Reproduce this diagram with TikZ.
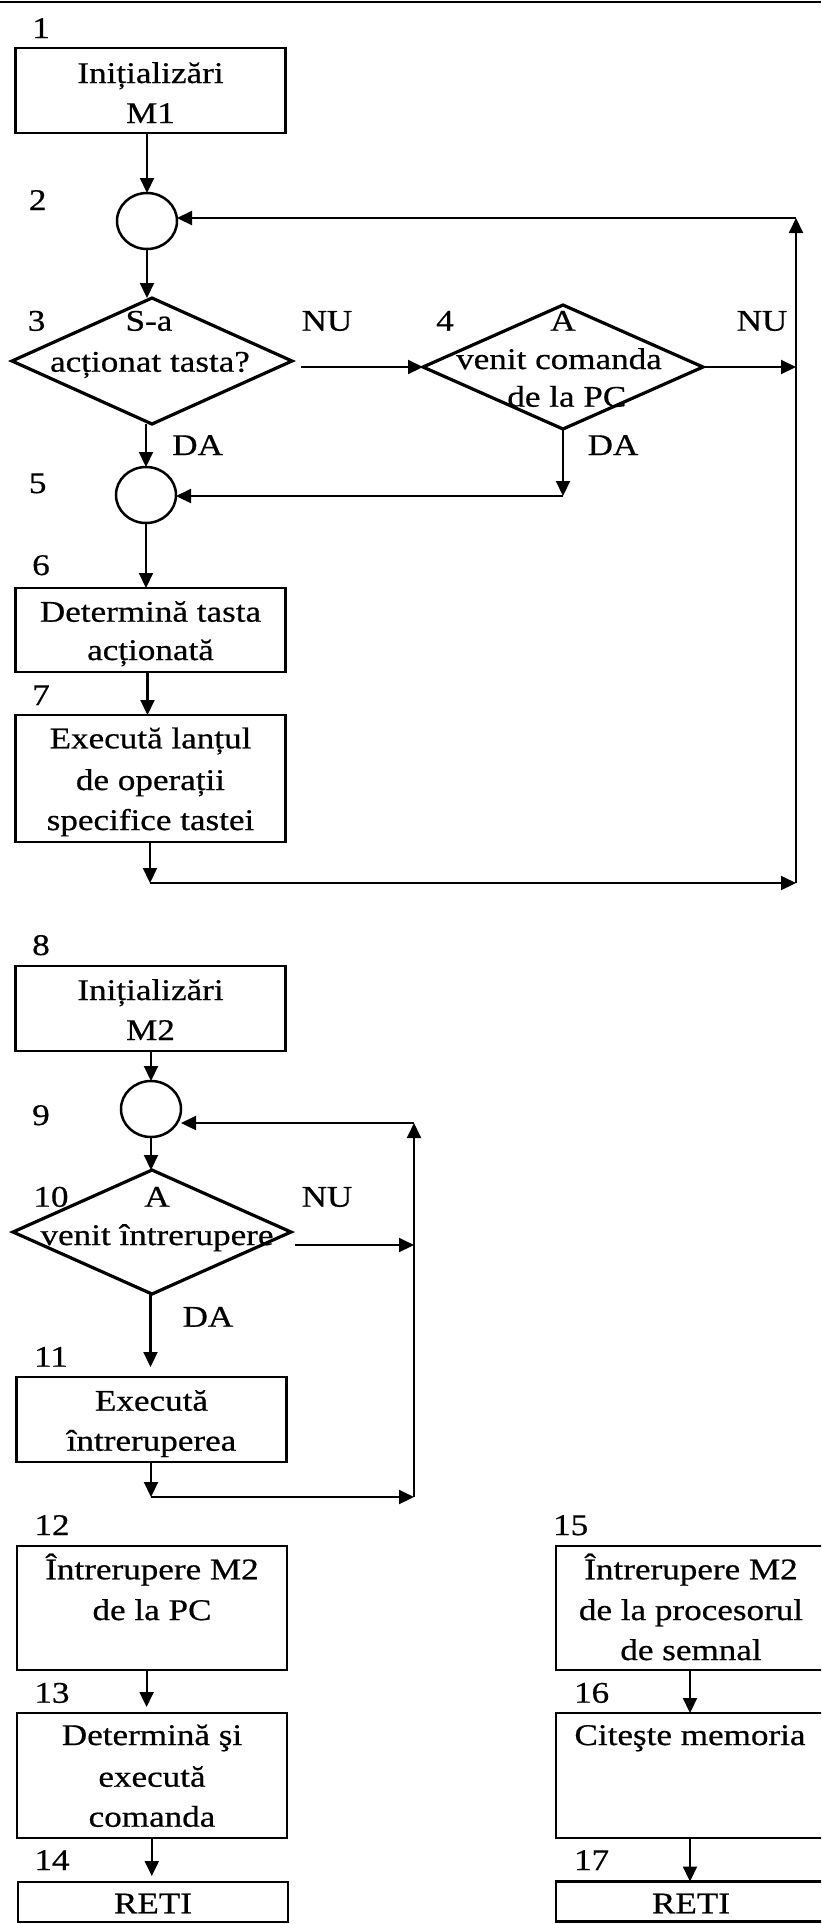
\documentclass[tikz,border=0pt]{standalone}
\usepackage{fontspec}
\setmainfont{Liberation Serif}[FakeStretch=1.17,FakeBold=0.6]
\usetikzlibrary{arrows.meta,shapes.geometric}

\begin{document}
\begin{tikzpicture}[x=0.5pt,y=-0.5pt,
  every node/.style={inner sep=0pt, outer sep=0pt},
  box/.style={draw, line width=1.25pt, rectangle, minimum width=135pt},
  dec/.style={draw, line width=1.6pt, diamond, minimum width=140pt, minimum height=62pt},
  joint/.style={draw, line width=1.25pt, ellipse, minimum width=30pt, minimum height=28pt},
  txt/.style={anchor=base, font=\fontsize{15}{18}\selectfont},
  num/.style={txt},
  arr/.style={line width=1.05pt, -{Triangle[length=7.5pt,width=7pt]}},
]
\useasboundingbox (0,0) rectangle (821,1924);
\clip (0,0) rectangle (821,1924);

% page header rule
\coordinate (rl) at (0,2);
\coordinate (rr) at (821,2);
\draw[line width=1.4pt] (rl) -- (rr);

% column helpers
\coordinate (colA) at (147.5,0);
\coordinate (colB) at (150.5,0);
\coordinate (colC) at (146.6,0);
\coordinate (colD) at (151.8,0);
\coordinate (colE) at (690,0);

% ---------------- program M1 ----------------
\node[box, minimum height=42.5pt] (b1) at (150.5,90.5) {};
\node[txt] (t1a) at (150.5,83) {Inițializări};
\node[txt] (t1b) at (150.5,123) {M1};
\node[num] (n1) at (41,38) {1};

\node[joint] (c2) at (147,221) {};
\node[num] (n2) at (37.7,210) {2};

\node[dec, minimum height=63pt] (d3) at (152,361) {};
\node[txt] (t3a) at (149,330.7) {S-a};
\node[txt] (t3b) at (150,371.7) {acționat tasta?};
\node[num] (n3) at (36.6,330.7) {3};
\node[txt] (nu3) at (327,330.7) {NU};
\node[txt] (da3) at (197.6,455) {DA};

\node[dec] (d4) at (563,367) {};
\node[txt] (t4a) at (563,330.7) {A};
\node[txt] (t4b) at (559,369) {venit comanda};
\node[txt] (t4c) at (566.8,406.7) {de la PC};
\node[num] (n4) at (445,330.7) {4};
\node[txt] (nu4) at (762,330.7) {NU};
\node[txt] (da4) at (613,455) {DA};

\node[joint] (c5) at (146,495) {};
\node[num] (n5) at (37.7,493) {5};

\node[box, minimum height=42pt] (b6) at (150.5,630) {};
\node[txt] (t6a) at (150.5,621.7) {Determină tasta};
\node[txt] (t6b) at (150.5,660) {acționată};
\node[num] (n6) at (41,575) {6};

\node[box, minimum height=63.5pt] (b7) at (150.5,778.5) {};
\node[txt] (t7a) at (150.5,748.3) {Execută lanțul};
\node[txt] (t7b) at (150.5,790) {de operații};
\node[txt] (t7c) at (150.5,830) {specifice tastei};
\node[num] (n7) at (41,705) {7};

% loop corners
\coordinate (q1) at (150,883);
\coordinate (q2) at (796,883);
\coordinate (q3) at (796,218);
\coordinate (q4) at (563,496);

\draw[arr] (b1.south -| c2.north) -- (c2.north);
\draw[arr] (c2.south) -- (c2.south |- d3.north);
\draw[arr] (d3.south -| c5.north) -- (c5.north);
\draw[arr] ([xshift=4.5pt]d3.east |- d4.west) -- (d4.west);
\draw[arr] (d4.east) -- (d4.east -| q2);
\draw[arr] (d4.south) -- (q4);
\draw[arr] (q4) -- (q4 -| c5.east);
\draw[arr] (c5.south) -- (c5.south |- b6.north);
\draw[arr] (b6.south -| colA) -- (b7.north -| colA);
\draw[arr] (b7.south -| q1) -- (q1);
\draw[arr] (q1) -- (q2);
\draw[arr] (q2) -- (q3);
\draw[arr] (q3) -- (q3 -| c2.east);

% ---------------- program M2 ----------------
\node[box, minimum height=42.5pt] (b8) at (150.5,1008.5) {};
\node[txt] (t8a) at (150.5,1000) {Inițializări};
\node[txt] (t8b) at (150.5,1040) {M2};
\node[num] (n8) at (41,955) {8};

\node[joint] (c9) at (151,1109) {};
\node[num] (n9) at (41,1125) {9};

\node[dec, minimum width=139pt] (d10) at (152,1232) {};
\node[txt] (t10a) at (157,1206.7) {A};
\node[txt] (t10b) at (157,1245) {venit întrerupere};
\node[num] (n10) at (51,1206.7) {10};
\node[txt] (nu10) at (327,1206.7) {NU};
\node[txt] (da10) at (208,1326.7) {DA};

\node[box, minimum height=42.5pt] (b11) at (151.5,1419.5) {};
\node[txt] (t11a) at (151.5,1410.7) {Execută};
\node[txt] (t11b) at (151.5,1450.7) {întreruperea};
\node[num] (n11) at (51,1366.7) {11};

\coordinate (r1) at (151,1497);
\coordinate (r2) at (414,1497);
\coordinate (r3) at (414,1123);
\coordinate (r4) at (414,1245);

\draw[arr] (b8.south -| c9.north) -- (c9.north);
\draw[arr] (c9.south) -- (c9.south |- d10.north);
\draw[arr, shorten >=5pt] (d10.south -| colB) -- (b11.north -| colB);
\draw[arr] ([xshift=2pt]d10.east |- r4) -- (r4);
\draw[arr] (b11.south -| r1) -- (r1);
\draw[arr] (r1) -- (r2);
\draw[arr] (r2) -- (r3);
\draw[arr] (r3) -- (r3 -| c9.east);

% ---------------- interrupt routines ----------------
\node[box, minimum height=62pt] (b12) at (152,1608) {};
\node[txt] (t12a) at (152,1579.3) {Întrerupere M2};
\node[txt] (t12b) at (152,1620) {de la PC};
\node[num] (n12) at (52,1535) {12};

\node[box, minimum height=62.5pt] (b13) at (152,1775.5) {};
\node[txt] (t13a) at (152,1745) {Determină şi};
\node[txt] (t13b) at (152,1786.7) {execută};
\node[txt] (t13c) at (152,1826.7) {comanda};
\node[num] (n13) at (52,1702.7) {13};

\node[box, minimum height=20pt] (b14) at (153,1902) {};
\node[txt] (t14) at (153,1913.3) {RETI};
\node[num] (n14) at (52,1870) {14};

\draw[arr, shorten >=3pt] (b12.south -| colC) -- (b13.north -| colC);
\draw[arr, shorten >=3pt] (b13.south -| colD) -- (b14.north -| colD);

\node[box, minimum height=62pt] (b15) at (691,1608) {};
\node[txt] (t15a) at (691,1579.3) {Întrerupere M2};
\node[txt] (t15b) at (691,1620) {de la procesorul};
\node[txt] (t15c) at (691,1660) {de semnal};
\node[num] (n15) at (570.7,1535) {15};

\node[box, minimum height=62.5pt] (b16) at (691,1775.5) {};
\node[txt] (t16) at (690,1745) {Citeşte memoria};
\node[num] (n16) at (591.6,1702.7) {16};

\node[box, minimum height=20pt] (b17) at (691,1901.5) {};
\node[txt] (t17) at (691,1913.3) {RETI};
\node[num] (n17) at (591.6,1870) {17};

\draw[arr] (b15.south -| colE) -- (b16.north -| colE);
\draw[arr] (b16.south -| colE) -- (b17.north -| colE);
\end{tikzpicture}
\end{document}
